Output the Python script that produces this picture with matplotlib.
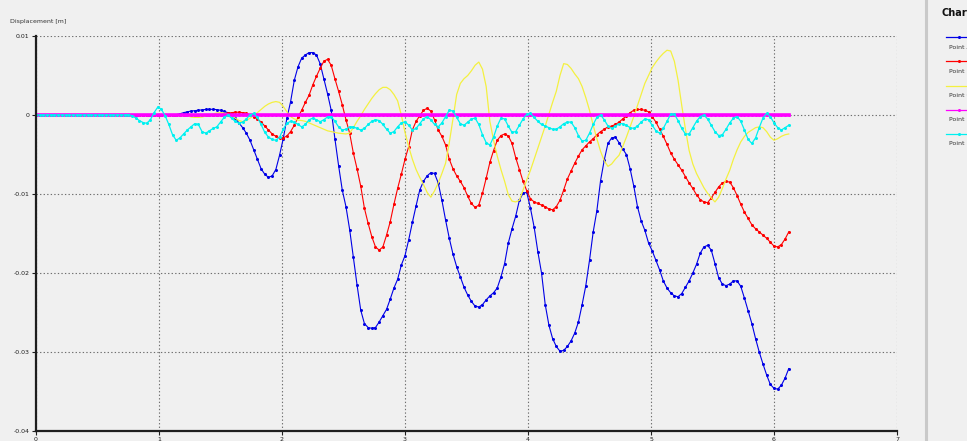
import numpy as np
import matplotlib
matplotlib.use("Agg")
import matplotlib.pyplot as plt
from matplotlib.lines import Line2D

T_STEP = 0.03  # sampling interval of the recorded histories [s]

# Displacement histories in millimetres, ten samples (0.3 s) per row
point_a = [
    0, 0, 0, 0, 0, 0, 0, 0, 0, 0,
    0, 0, 0, 0, 0, 0, 0, 0, 0, 0,
    0, 0, 0, 0, 0, 0, 0, 0, 0, 0,
    0, 0, 0, 0, 0, 0, 0, 0.02, 0.05, 0.15,
    0.3, 0.4, 0.5, 0.55, 0.6, 0.65, 0.7, 0.72, 0.72, 0.68,
    0.6, 0.45, 0.3, 0.1, -0.4, -1.0, -1.6, -2.3, -3.2, -4.4,
    -5.6, -6.8, -7.5, -7.9, -7.7, -6.9, -5.1, -3.0, -0.4, 1.7,
    4.4, 6.1, 7.2, 7.6, 7.9, 7.9, 7.6, 6.5, 4.6, 2.7,
    0.6, -3.0, -6.4, -9.5, -11.6, -14.5, -18.0, -21.5, -24.7, -26.4,
    -26.9, -27.0, -26.9, -26.2, -25.4, -24.6, -23.3, -21.9, -20.8, -19.0,
    -17.8, -15.8, -13.6, -11.5, -9.5, -8.4, -7.7, -7.3, -7.4, -8.6,
    -10.8, -13.3, -15.6, -17.6, -19.2, -20.5, -21.8, -22.8, -23.6, -24.2,
    -24.3, -24.0, -23.4, -22.9, -22.5, -21.9, -20.5, -18.8, -16.2, -14.4,
    -12.8, -10.8, -9.9, -9.8, -11.8, -14.2, -17.3, -20.0, -24.0, -26.6,
    -28.3, -29.3, -29.9, -29.8, -29.3, -28.6, -27.6, -26.2, -24.0, -21.6,
    -18.4, -14.8, -12.1, -8.3, -5.7, -3.6, -2.9, -2.8, -3.5, -4.3,
    -5.0, -6.8, -9.0, -11.6, -13.4, -14.6, -16.2, -17.2, -18.4, -19.6,
    -21.0, -21.9, -22.5, -22.9, -23.0, -22.6, -21.8, -21.0, -20.0, -18.9,
    -17.5, -16.7, -16.5, -17.1, -18.8, -20.6, -21.4, -21.6, -21.4, -21.0,
    -21.0, -21.7, -23.2, -24.8, -26.4, -28.3, -30.0, -31.5, -32.9, -34.1,
    -34.6, -34.7, -34.2, -33.3, -32.1,
]

point_b = [
    0, 0, 0, 0, 0, 0, 0, 0, 0, 0,
    0, 0, 0, 0, 0, 0, 0, 0, 0, 0,
    0, 0, 0, 0, 0, 0, 0, 0, 0, 0,
    0, 0, 0, 0, 0, 0, 0, 0, 0, 0,
    0, 0, 0, 0, 0, 0, 0, 0, 0, 0,
    0.05, 0.15, 0.25, 0.3, 0.35, 0.35, 0.3, 0.2, 0.0, -0.2,
    -0.5, -0.9, -1.4, -1.9, -2.4, -2.7, -2.9, -2.9, -2.65, -2.1,
    -1.3, -0.3, 0.6, 1.6, 2.5, 3.8, 4.9, 5.9, 6.8, 7.05,
    6.3, 4.6, 3.0, 1.3, -0.6, -2.3, -4.8, -6.8, -9.0, -11.8,
    -13.7, -15.4, -16.7, -17.1, -16.7, -15.2, -13.5, -11.3, -9.3, -7.5,
    -5.6, -4.0, -1.9, -0.8, -0.1, 0.6, 0.85, 0.5, -0.6, -1.9,
    -2.7, -3.8, -5.6, -6.8, -7.7, -8.4, -9.2, -10.3, -11.2, -11.7,
    -11.4, -9.9, -8.0, -6.0, -4.5, -3.2, -2.6, -2.4, -2.65, -3.6,
    -5.4, -6.9, -8.4, -9.6, -10.6, -11.0, -11.2, -11.4, -11.6, -11.9,
    -12.0, -11.6, -10.8, -9.5, -8.1, -7.1, -6.1, -5.2, -4.4, -3.9,
    -3.4, -3.0, -2.5, -2.1, -1.8, -1.5, -1.4, -1.2, -0.9, -0.5,
    -0.1, 0.3, 0.6, 0.7, 0.7, 0.6, 0.4, -0.2, -0.9, -1.8,
    -2.7, -3.7, -4.8, -5.6, -6.3, -7.0, -7.8, -8.6, -9.3, -10.1,
    -10.7, -11.0, -11.1, -10.5, -9.8, -9.1, -8.6, -8.4, -8.5, -9.2,
    -10.2, -11.3, -12.3, -13.1, -13.9, -14.4, -14.8, -15.2, -15.6, -16.1,
    -16.6, -16.7, -16.4, -15.7, -14.8,
]

point_c = [
    0, 0, 0, 0, 0, 0, 0, 0, 0, 0,
    0, 0, 0, 0, 0, 0, 0, 0, 0, 0,
    0, 0, 0, 0, 0, 0, 0, 0, 0, 0,
    0, 0, 0, 0, 0, 0, 0, 0, 0, 0,
    0.0, -0.1, -0.25, -0.3, -0.3, -0.25, -0.15, 0.0, 0.15, 0.25,
    0.3, 0.25, 0.1, -0.1, -0.4, -0.7, -0.85, -0.7, -0.4, -0.1,
    0.3, 0.7, 1.1, 1.4, 1.6, 1.7, 1.6, 1.1, 0.4, -0.2,
    -0.5, -0.65, -0.7, -0.8, -1.0, -1.2, -1.4, -1.6, -1.8, -2.0,
    -2.1, -2.2, -2.3, -2.35, -2.4, -2.3, -1.6, -0.8, -0.1, 0.7,
    1.4, 2.1, 2.7, 3.2, 3.5, 3.5, 3.2, 2.6, 1.8, 0.0,
    -2.2, -4.0, -5.6, -6.9, -7.9, -8.8, -9.8, -10.4, -9.6, -8.6,
    -7.4, -6.1, -3.5, -0.5, 2.6, 4.0, 4.6, 5.0, 5.6, 6.3,
    6.7, 5.8, 3.6, -0.8, -3.2, -5.2, -6.9, -8.4, -10.1, -10.9,
    -11.0, -10.8, -9.5, -8.2, -7.0, -5.6, -4.2, -2.8, -1.4, 0.1,
    1.6, 3.0, 5.0, 6.5, 6.4, 5.9, 5.2, 4.6, 3.6, 2.2,
    0.6, -1.3, -3.0, -4.6, -5.8, -6.5, -6.2, -5.6, -5.1, -4.0,
    -2.8, -1.5, -0.2, 1.2, 2.6, 4.0, 5.0, 6.0, 6.7, 7.3,
    7.8, 8.2, 8.1, 6.8, 4.4, 1.2, -1.8, -4.5, -6.2, -7.4,
    -8.3, -9.2, -9.9, -10.5, -11.0, -10.4, -9.3, -8.1, -7.0, -5.6,
    -4.4, -3.4, -2.7, -2.2, -1.9, -1.6, -1.5, -1.6, -2.1, -2.8,
    -3.2, -3.0, -2.7, -2.5, -2.4,
]

point_d = [
    0, 0, 0, 0, 0, 0, 0, 0, 0, 0,
    0, 0, 0, 0, 0, 0, 0, 0, 0, 0,
    0, 0, 0, 0, 0, 0, 0, 0, 0, 0,
    0, 0, 0, 0, 0, 0, 0, 0, 0, 0,
    0, 0, 0, 0, 0, 0, 0, 0, 0, 0,
    0, 0, 0, 0, 0, 0, 0, 0, 0, 0,
    0, 0, 0, 0, 0, 0, 0, 0, 0, 0,
    0, 0, 0, 0, 0, 0, 0, 0, 0, 0,
    0, 0, 0, 0, 0, 0, 0, 0, 0, 0,
    0, 0, 0, 0, 0, 0, 0, 0, 0, 0,
    0, 0, 0, 0, 0, 0, 0, 0, 0, 0,
    0, 0, 0, 0, 0, 0, 0, 0, 0, 0,
    0, 0, 0, 0, 0, 0, 0, 0, 0, 0,
    0, 0, 0, 0, 0, 0, 0, 0, 0, 0,
    0, 0, 0, 0, 0, 0, 0, 0, 0, 0,
    0, 0, 0, 0, 0, 0, 0, 0, 0, 0,
    0, 0, 0, 0, 0, 0, 0, 0, 0, 0,
    0, 0, 0, 0, 0, 0, 0, 0, 0, 0,
    0, 0, 0, 0, 0, 0, 0, 0, 0, 0,
    0, 0, 0, 0, 0, 0, 0, 0, 0, 0,
    0, 0, 0, 0, 0,
]

point_e = [
    0, 0, 0, 0, 0, 0, 0, 0, 0, 0,
    0, 0, 0, 0, 0, 0, 0, 0, 0, 0,
    0, 0, 0, 0, 0, 0.05, -0.1, -0.35, -0.7, -0.95,
    -1.05, -0.6, 0.3, 1.0, 0.7, -0.1, -1.2, -2.5, -3.2, -2.9,
    -2.4, -1.9, -1.5, -1.1, -1.2, -2.1, -2.3, -2.0, -1.7, -1.5,
    -0.9, -0.3, 0.0, -0.4, -0.8, -1.05, -0.9, -0.5, 0.0, 0.2,
    -0.3, -1.2, -2.2, -2.8, -3.1, -3.2, -2.8, -1.8, -1.05, -0.8,
    -0.9, -1.2, -1.5, -1.2, -0.6, -0.4, -0.6, -0.85, -0.6, -0.25,
    -0.2, -0.8, -1.5, -1.9, -1.8, -1.5, -1.5, -1.7, -1.9, -1.7,
    -1.2, -0.8, -0.6, -0.7, -1.2, -1.8, -2.3, -2.1, -1.5, -1.0,
    -0.85, -1.3, -1.9, -1.7, -1.1, -0.5, -0.2, -0.6, -1.2, -1.5,
    -1.0, -0.2, 0.6, 0.5, -0.3, -1.1, -1.3, -0.9, -0.5, -0.4,
    -1.2, -2.5, -3.5, -3.8, -2.8, -1.4, -0.4, -0.5, -1.4, -2.2,
    -2.1, -1.3, -0.5, 0.1, 0.2, -0.3, -0.8, -1.2, -1.4, -1.6,
    -1.8, -1.8, -1.5, -1.1, -0.9, -0.9, -1.6, -2.6, -3.3, -3.2,
    -2.3, -1.2, -0.3, 0.0, -0.6, -1.4, -1.7, -1.4, -1.1, -1.1,
    -1.3, -1.6, -1.7, -1.4, -0.9, -0.5, -0.6, -1.3, -2.0, -2.3,
    -1.7, -0.8, 0.1, 0.1, -0.7, -1.7, -2.4, -2.4, -1.6, -0.8,
    -0.2, 0.0, -0.5, -1.3, -2.1, -2.6, -2.5, -1.8, -1.0, -0.4,
    -0.2, -0.8, -1.9, -3.1, -3.6, -2.9, -1.6, -0.4, 0.2, -0.2,
    -1.0, -1.6, -1.9, -1.6, -1.3,
]

series_names = ["Point A", "Point B", "Point C", "Point D", "Point E"]
series_values = [point_a, point_b, point_c, point_d, point_e]
series_colors = ["#0000e6", "#ff0000", "#f4f040", "#ff00ff", "#00f0f0"]
x_ticks = [0, 1, 2, 3, 4, 5, 6, 7]
y_ticks = [0.01, 0.0, -0.01, -0.02, -0.03, -0.04]
y_tick_labels = ["0.01", "0", "-0.01", "-0.02", "-0.03", "-0.04"]
y_axis_title = "Displacement [m]"
legend_title = "Chart"

BG = "#f0f0f0"
W, H = 967, 441

fig = plt.figure(figsize=(W / 100, H / 100), dpi=100, facecolor=BG)
ax = fig.add_axes([36 / W, 10 / H, 861 / W, 395 / H])
ax.set_facecolor(BG)

styles = [
    dict(lw=0.8, marker="o", ms=2.2, alpha=1.0),
    dict(lw=0.8, marker="o", ms=2.2, alpha=1.0),
    dict(lw=0.9, marker=None, ms=0, alpha=1.0),
    dict(lw=2.6, marker="o", ms=2.0, alpha=1.0),
    dict(lw=0.9, marker="o", ms=2.2, alpha=1.0),
]

for vals, color, st in zip(series_values, series_colors, styles):
    disp = np.asarray(vals, dtype=float) / 1000.0  # mm -> m
    t = np.arange(len(disp)) * T_STEP
    ax.plot(t, disp, color=color, lw=st["lw"], marker=st["marker"],
            ms=st["ms"], mec=color, mfc=color, mew=0)

ax.set_xlim(0, 7)
ax.set_ylim(-0.04, 0.01)
ax.set_xticks(x_ticks)
ax.set_xticklabels([str(v) for v in x_ticks])
ax.set_yticks(y_ticks)
ax.set_yticklabels(y_tick_labels)
ax.grid(True, color="#6e6e6e", lw=0.8, linestyle=(0, (1.2, 2.0)))
ax.set_axisbelow(True)
for side in ("top", "right"):
    ax.spines[side].set_visible(False)
for side in ("left", "bottom"):
    ax.spines[side].set_color("#1e1e1e")
    ax.spines[side].set_linewidth(1.6)
ax.tick_params(axis="both", labelsize=4.5, length=3, width=0.8,
               colors="#1e1e1e", pad=1.5)

fig.text(10 / W, 1 - 22 / H, y_axis_title, fontsize=4.5, color="#333333",
         ha="left", va="center")

# side panel with the series key
fig.add_artist(Line2D([926 / W, 926 / W], [0, 1], transform=fig.transFigure,
                      color="#c9c9c9", lw=2.2))
fig.text(942 / W, 1 - 13 / H, legend_title, fontsize=7, fontweight="bold",
         color="#111111", ha="left", va="center")
for k, (name, color) in enumerate(zip(series_names, series_colors)):
    y_line = 1 - (37.3 + 24.1 * k) / H
    y_text = 1 - (47.3 + 24.1 * k) / H
    fig.add_artist(Line2D([946 / W, 975 / W], [y_line, y_line],
                          transform=fig.transFigure, color=color, lw=0.9))
    if k != 2:
        fig.add_artist(Line2D([959 / W], [y_line], transform=fig.transFigure,
                              color=color, marker="o", ms=2.2, mew=0, lw=0))
    fig.text(948.7 / W, y_text, name, fontsize=4.5, color="#333333",
             ha="left", va="center")

fig.savefig("out.png", dpi=100, facecolor=BG)
